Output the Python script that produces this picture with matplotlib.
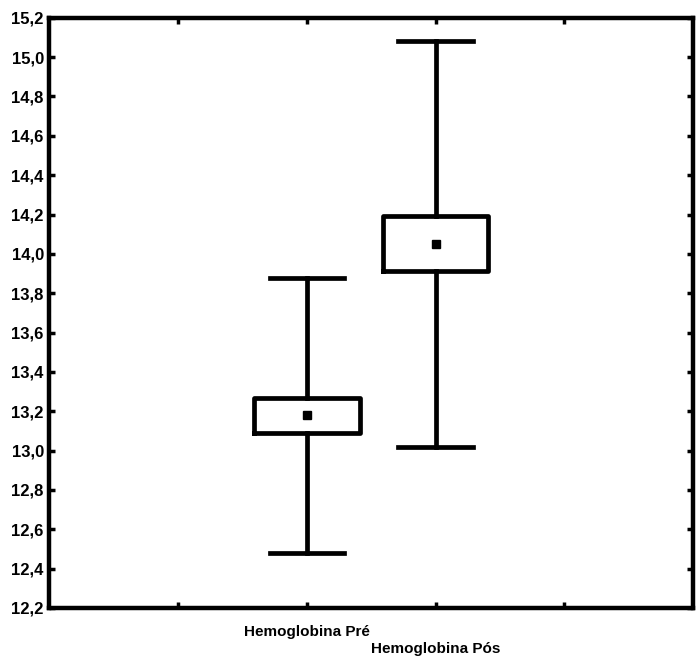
import matplotlib
matplotlib.use("Agg")
import matplotlib.pyplot as plt
from matplotlib.ticker import FuncFormatter, MultipleLocator

plt.rcParams['font.family'] = ['Liberation Sans', 'DejaVu Sans']

# data (mean, mean +/- SE box, whiskers)
labels = ["Hemoglobina Pré", "Hemoglobina Pós"]
positions = [2, 3]
means = [13.18, 14.05]
box_low = [13.09, 13.915]
box_high = [13.265, 14.19]
whisk_low = [12.48, 13.02]
whisk_high = [13.875, 15.08]

stats = []
for i in range(len(labels)):
    stats.append({
        "med": means[i], "mean": means[i],
        "q1": box_low[i], "q3": box_high[i],
        "whislo": whisk_low[i], "whishi": whisk_high[i],
        "label": labels[i],
    })

fig = plt.figure(figsize=(6.96, 6.58), dpi=100)
ax = fig.add_axes([0.071, 0.076, 0.925, 0.897])

lw = 3.4
ax.bxp(stats, positions=positions, widths=0.82, capwidths=0.58,
       showmeans=True, showfliers=False,
       boxprops=dict(linewidth=lw, color="black"),
       whiskerprops=dict(linewidth=lw, color="black"),
       capprops=dict(linewidth=lw, color="black"),
       medianprops=dict(linewidth=0),
       meanprops=dict(marker="s", markersize=5.5, markerfacecolor="black",
                      markeredgecolor="black"))

ax.set_xlim(0, 5)
ax.set_ylim(12.2, 15.2)
ax.yaxis.set_major_locator(MultipleLocator(0.2))
ax.yaxis.set_major_formatter(FuncFormatter(lambda v, p: f"{v:.1f}".replace(".", ",")))
ax.set_xticks([1, 2, 3, 4])
ax.set_xticklabels([])

ax.tick_params(axis="both", direction="in", length=4, width=2.5,
               top=True, right=True, labelsize=12, pad=4)
for lab in ax.get_yticklabels():
    lab.set_fontweight("bold")

for s in ax.spines.values():
    s.set_linewidth(3.2)

# staggered category labels
offsets = [0.085, 0.175]
for i, lab in enumerate(labels):
    ax.text(positions[i], 12.2 - offsets[i], lab,
            ha="center", va="top", fontsize=11, fontweight="bold")

fig.savefig("out.png", dpi=100)
